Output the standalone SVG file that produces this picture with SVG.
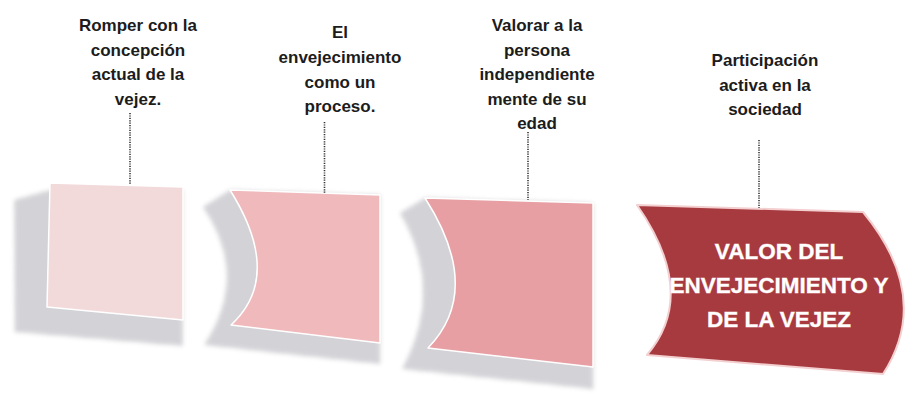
<svg xmlns="http://www.w3.org/2000/svg" width="908" height="400" viewBox="0 0 908 400">
  <defs>
    <pattern id="dots" width="3" height="3" patternUnits="userSpaceOnUse">
      <rect width="3" height="3" fill="#e0e0e4"/>
      <rect width="2" height="2" fill="#aeaeb5"/>
    </pattern>
    <filter id="soft" x="-20%" y="-20%" width="140%" height="140%">
      <feGaussianBlur stdDeviation="2.2"/>
    </filter>
  </defs>
  <style>
    .lbl { font-family: "Liberation Sans", Arial, sans-serif; font-weight: bold; font-size: 17px; fill: #1c1c1c; text-anchor: middle; }
    .title { font-family: "Liberation Sans", Arial, sans-serif; font-weight: bold; font-size: 22.5px; fill: #ffffff; text-anchor: middle; stroke: #f6d6d6; stroke-width: 0.8; stroke-opacity: 0.6; paint-order: stroke; }
    .shadow { fill: url(#dots); filter: url(#soft); opacity: 0.85; }
    .step { stroke: #ffffff; stroke-width: 1.5; stroke-linejoin: round; }
    .dot { stroke: #333333; stroke-width: 1.6; stroke-dasharray: 1.2 1.2; fill: none; }
  </style>
  <rect width="908" height="400" fill="#ffffff"/>

  <g id="node1">
    <path class="shadow" d="M14,200 L50,190 L183,190 L183,346 L15,332 Z"/>
    <path class="step" fill="#f2dadb" d="M50,183 L183,187 L183,320 L47,307 Z"/>
    <text class="lbl" x="138"><tspan x="138" y="31">Romper con la</tspan><tspan x="138" y="55.5">concepción</tspan><tspan x="138" y="80">actual de la</tspan><tspan x="138" y="104.5">vejez.</tspan></text>
  </g>

  <g id="node2">
    <path class="shadow" d="M203,207 Q 250,276 204,345 L380,364 L380,195 L230,190 Z"/>
    <path class="step" fill="#f0b9bc" d="M230,190 L380,195 L380,343 L231,325 Q 284,276 230,190 Z"/>
    <text class="lbl" x="340"><tspan x="340" y="38">El</tspan><tspan x="340" y="63">envejecimiento</tspan><tspan x="340" y="88">como un</tspan><tspan x="340" y="112">proceso.</tspan></text>
  </g>

  <g id="node3">
    <path class="shadow" d="M400,213 Q 445,290 402,369 L593,389 L593,203 L425,198 Z"/>
    <path class="step" fill="#e89fa3" d="M425,198 L593,203 L593,367 L428,348 Q 484,290 425,198 Z"/>
    <text class="lbl" x="537"><tspan x="537" y="31">Valorar a la</tspan><tspan x="537" y="55.5">persona</tspan><tspan x="537" y="80">independiente</tspan><tspan x="537" y="104.5">mente de su</tspan><tspan x="537" y="129">edad</tspan></text>
  </g>

  <g id="node4">
    <path fill="#a63a3f" stroke="#f3cfd0" stroke-width="2" stroke-linejoin="round" d="M637,205 L863,212 Q 933,297 883,374 L647,355 Q 699,294 637,205 Z"/>
    <text class="title" x="779"><tspan x="779" y="259">VALOR DEL</tspan><tspan x="779" y="293">ENVEJECIMIENTO Y</tspan><tspan x="779" y="327">DE LA VEJEZ</tspan></text>
    <text class="lbl" x="765"><tspan x="765" y="66">Participación</tspan><tspan x="765" y="91">activa en la</tspan><tspan x="765" y="115">sociedad</tspan></text>
  </g>

  <g id="connectors">
    <line class="dot" x1="130" y1="113" x2="130" y2="185"/>
    <line class="dot" x1="324.5" y1="122" x2="324.5" y2="193"/>
    <line class="dot" x1="528" y1="132" x2="528" y2="200"/>
    <line class="dot" x1="759" y1="140" x2="759" y2="208"/>
  </g>
</svg>
